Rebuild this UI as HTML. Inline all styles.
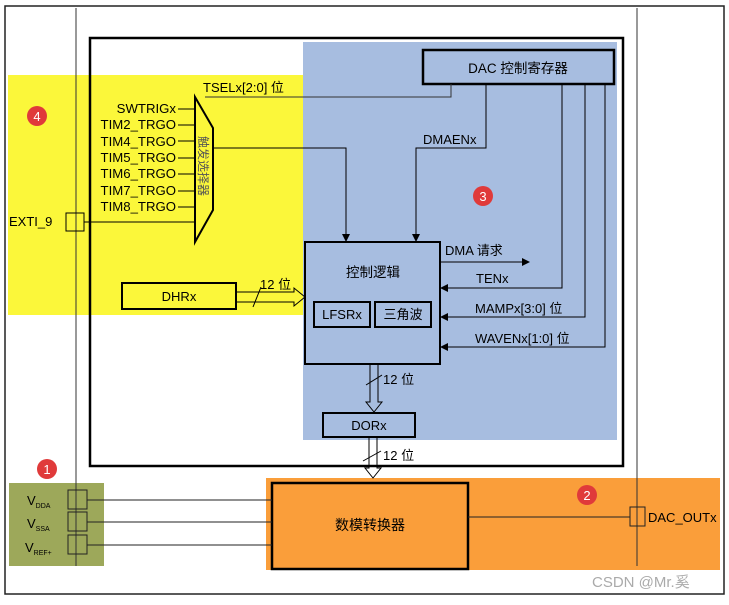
<!DOCTYPE html><html><head><meta charset="utf-8"><style>
body{margin:0;background:#fff;}
svg text{font-family:"Liberation Sans","Noto Sans CJK SC",sans-serif;}
</style></head><body>
<svg width="729" height="600" viewBox="0 0 729 600" xmlns="http://www.w3.org/2000/svg">
<defs><marker id="a" markerWidth="8" markerHeight="8" refX="7" refY="4" orient="auto" markerUnits="userSpaceOnUse"><path d="M0,0 L8,4 L0,8 z" fill="#000"/></marker></defs>
<rect x="0" y="0" width="729" height="600" fill="#fff"/>
<rect x="5" y="6" width="719" height="588" fill="none" stroke="#222" stroke-width="1.5"/>
<rect x="8" y="75" width="296" height="240" fill="#fbf73a"/>
<rect x="303" y="42" width="314" height="398" fill="#a7bde0"/>
<rect x="266" y="478" width="454" height="92" fill="#fa9e3a"/>
<rect x="9" y="483" width="95" height="83" fill="#9da85a"/>
<line x1="76" y1="8" x2="76" y2="566" stroke="#333"/>
<line x1="637" y1="8" x2="637" y2="566" stroke="#333"/>
<rect x="90" y="38" width="533" height="428" fill="none" stroke="#000" stroke-width="2.5"/>
<rect x="423" y="50" width="191" height="34" fill="#a7bde0" stroke="#000" stroke-width="2.5"/>
<text x="518" y="73" font-size="13.5" text-anchor="middle">DAC 控制寄存器</text>
<g font-size="13.2" text-anchor="end">
<text x="176" y="113">SWTRIGx</text><text x="176" y="129">TIM2_TRGO</text><text x="176" y="146">TIM4_TRGO</text><text x="176" y="162">TIM5_TRGO</text><text x="176" y="178">TIM6_TRGO</text><text x="176" y="195">TIM7_TRGO</text><text x="176" y="211">TIM8_TRGO</text></g>
<g stroke="#000"><line x1="178" y1="109" x2="195" y2="109"/><line x1="178" y1="125" x2="195" y2="125"/><line x1="178" y1="141" x2="195" y2="141"/><line x1="178" y1="158" x2="195" y2="158"/><line x1="178" y1="174" x2="195" y2="174"/><line x1="178" y1="191" x2="195" y2="191"/><line x1="178" y1="207" x2="195" y2="207"/></g>
<text x="9" y="226" font-size="13">EXTI_9</text>
<rect x="66" y="213" width="18" height="18" fill="none" stroke="#000"/>
<line x1="84" y1="222" x2="195" y2="222" stroke="#000"/>
<polygon points="195,97 213,128 213,210 195,242" fill="#fbf73a" stroke="#000" stroke-width="2"/>
<text x="204" y="171" font-size="12" text-anchor="middle" fill="#555" transform="rotate(90 204 166)">触发选择器</text>
<text x="203" y="92" font-size="13">TSELx[2:0] 位</text>
<polyline points="205,97 451,97 451,84" fill="none" stroke="#333"/>
<polyline points="213,148 346,148 346,241" fill="none" stroke="#000" marker-end="url(#a)"/>
<polyline points="486,84 486,148 416,148 416,241" fill="none" stroke="#000" marker-end="url(#a)"/>
<text x="423" y="144" font-size="13">DMAENx</text>
<circle cx="37" cy="116" r="10" fill="#e03a3a"/><text x="37" y="121" font-size="13" fill="#fff" text-anchor="middle">4</text>
<circle cx="483" cy="196" r="10" fill="#e03a3a"/><text x="483" y="201" font-size="13" fill="#fff" text-anchor="middle">3</text>
<circle cx="47" cy="469" r="10" fill="#e03a3a"/><text x="47" y="474" font-size="13" fill="#fff" text-anchor="middle">1</text>
<circle cx="587" cy="495" r="10" fill="#e03a3a"/><text x="587" y="500" font-size="13" fill="#fff" text-anchor="middle">2</text>
<rect x="305" y="242" width="135" height="122" fill="#a7bde0" stroke="#000" stroke-width="2"/>
<text x="373" y="277" font-size="13.5" text-anchor="middle">控制逻辑</text>
<rect x="314" y="302" width="56" height="25" fill="none" stroke="#000" stroke-width="2"/>
<text x="342" y="319" font-size="13" text-anchor="middle">LFSRx</text>
<rect x="375" y="302" width="56" height="25" fill="none" stroke="#000" stroke-width="2"/>
<text x="403" y="319" font-size="13" text-anchor="middle">三角波</text>
<line x1="440" y1="262" x2="529" y2="262" stroke="#000" marker-end="url(#a)"/>
<text x="445" y="255" font-size="13">DMA 请求</text>
<polyline points="562,84 562,288 441,288" fill="none" stroke="#000" marker-end="url(#a)"/>
<text x="476" y="283" font-size="13">TENx</text>
<polyline points="585,84 585,317 441,317" fill="none" stroke="#000" marker-end="url(#a)"/>
<text x="475" y="313" font-size="13">MAMPx[3:0] 位</text>
<polyline points="605,84 605,347 441,347" fill="none" stroke="#000" marker-end="url(#a)"/>
<text x="475" y="343" font-size="13">WAVENx[1:0] 位</text>
<g fill="none" stroke="#000"><polyline points="370,364 370,402 366,402 374,412 382,402 378,402 378,364"/><line x1="366" y1="385" x2="382" y2="375"/></g>
<text x="383" y="384" font-size="13">12 位</text>
<rect x="323" y="413" width="92" height="24" fill="#a7bde0" stroke="#000" stroke-width="2"/>
<text x="369" y="430" font-size="13" text-anchor="middle">DORx</text>
<g fill="none" stroke="#000"><polyline points="369,437 369,468 365,468 373,478 381,468 377,468 377,437"/><line x1="363" y1="461" x2="381" y2="451"/></g>
<text x="383" y="460" font-size="13">12 位</text>
<rect x="122" y="283" width="114" height="26" fill="#fbf73a" stroke="#000" stroke-width="2"/>
<text x="179" y="301" font-size="13" text-anchor="middle">DHRx</text>
<g fill="none" stroke="#000"><polyline points="236,292 294,292 294,288 305,297 294,306 294,302 236,302"/><line x1="253" y1="307" x2="261" y2="287"/></g>
<text x="260" y="289" font-size="13">12 位</text>
<rect x="272" y="483" width="196" height="86" fill="#fa9e3a" stroke="#000" stroke-width="2.5"/>
<text x="370" y="530" font-size="14" text-anchor="middle">数模转换器</text>
<g fill="none" stroke="#222"><rect x="68" y="490" width="19" height="19"/><rect x="68" y="512" width="19" height="19"/><rect x="68" y="535" width="19" height="19"/>
<line x1="87" y1="500" x2="272" y2="500"/><line x1="87" y1="522" x2="272" y2="522"/><line x1="87" y1="545" x2="272" y2="545"/>
<line x1="468" y1="517" x2="630" y2="517"/><rect x="630" y="507" width="15" height="19"/></g>
<text x="27" y="505" font-size="13">V<tspan font-size="7" dy="3">DDA</tspan></text>
<text x="27" y="528" font-size="13">V<tspan font-size="7" dy="3">SSA</tspan></text>
<text x="25" y="552" font-size="13">V<tspan font-size="7" dy="3">REF+</tspan></text>
<text x="648" y="522" font-size="13">DAC_OUTx</text>
<text x="592" y="587" font-size="15" fill="#aaa">CSDN @Mr.奚</text>
</svg>
</body></html>
